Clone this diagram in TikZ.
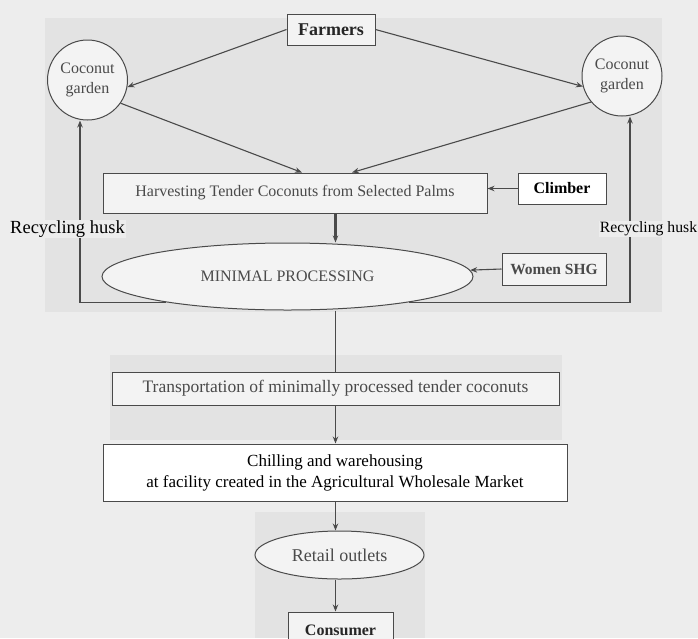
\documentclass[tikz,border=0pt]{standalone}
\usepackage{fontspec}
\setmainfont{Liberation Serif}
\usepackage{tikz}
\usetikzlibrary{shapes.geometric,arrows.meta}
\definecolor{paper}{HTML}{EDEDED}
\definecolor{scan}{HTML}{E3E3E3}
\definecolor{boxfill}{HTML}{F3F3F3}
\definecolor{ink}{HTML}{4A4A4A}
\newcommand{\sz}[2]{\fontsize{#1}{#2}\selectfont}
\tikzset{
  box/.style={draw=ink,fill=boxfill,line width=1pt,inner sep=0pt,text=ink},
  oval/.style={box,ellipse},
  garden/.style={box,circle,minimum size=80pt,align=center,font=\sz{16}{20}},
  flow/.style={-{Stealth[length=7pt,width=5.5pt]},ink,line width=1.1pt},
}

\begin{document}
\begin{tikzpicture}[x=1pt,y=-1pt]
  \fill[paper] (0,0) rectangle (698,638);
  \useasboundingbox (0,0) rectangle (698,638);
  \fill[scan] (45,18) rectangle (662,312);
  \fill[scan] (110,355) rectangle (562,440);
  \fill[scan] (255,512) rectangle (425,638);

  \node[box,minimum width=88pt,minimum height=31pt,font=\bfseries\sz{18}{18},text=black!85] (farmers) at (331,29.5) {Farmers};
  \node[garden] (gardenL) at (87.5,80) {Coconut\\garden};
  \node[garden] (gardenR) at (622,76) {Coconut\\garden};
  \node[box,minimum width=384pt,minimum height=40pt,font=\sz{16}{16}] (harvest) at (295,193) {Harvesting Tender Coconuts from Selected Palms};
  \node[box,minimum width=88pt,minimum height=31pt,font=\bfseries\sz{16}{16},text=black,fill=white] (climber) at (562,188.5) {Climber};
  \node[oval,minimum width=371pt,minimum height=67pt,font=\sz{16}{16}] (minproc) at (287.5,276.5) {MINIMAL PROCESSING};
  \node[box,minimum width=104pt,minimum height=32pt,font=\bfseries\sz{15.5}{15.5}] (women) at (554,269) {Women SHG};
  \node[box,minimum width=447pt,minimum height=33pt,font=\sz{17.5}{17.5}] (transport) at (335.5,388.5) {Transportation of minimally processed tender coconuts};
  \node[box,minimum width=464pt,minimum height=57pt,align=center,font=\sz{17}{21},text=black,fill=white] (chill) at (335,472.5) {Chilling and warehousing\\at facility created in the Agricultural Wholesale Market};
  \node[oval,minimum width=169pt,minimum height=48pt,font=\sz{18}{18}] (retail) at (339.5,555) {Retail outlets};
  \node[box,minimum width=105pt,minimum height=36pt,font=\bfseries\sz{16}{16},text=black!85] (consumer) at (340.5,630) {Consumer};

  \path[flow]
  (farmers.west) edge (gardenL.-10)
  (farmers.east) edge (gardenR.195)
  (gardenL.-35) edge ([xshift=7pt]harvest.north)
  (gardenR.220) edge ([xshift=57pt]harvest.north)
  (climber.west) edge (climber.west -| harvest.east)
  (women.west) edge (minproc.2)
  (transport.south) edge (chill.north -| transport.south)
  (chill.south -| transport) edge (retail.north -| transport)
  (retail.south -| transport) edge (consumer.north -| transport);
  \draw[flow,line width=2.6pt] (harvest.south -| transport) -- (minproc.north -| transport);
  \draw[ink,line width=1.1pt] (minproc.south -| transport) -- (transport.north);

  % husk goes back to the gardens
  \draw[flow] (minproc.192) -| ([xshift=-7.5pt]gardenL.south);
  \draw[flow] (minproc.-12) -| ([xshift=8pt]gardenR.south);
  \node[fill=paper,inner sep=1pt,font=\sz{18.5}{18.5}] (huskL) at (67.5,229) {Recycling husk};
  \node[fill=paper,inner sep=1pt,font=\sz{15.7}{15.7}] (huskR) at (648.5,229) {Recycling husk};
\end{tikzpicture}
\end{document}
